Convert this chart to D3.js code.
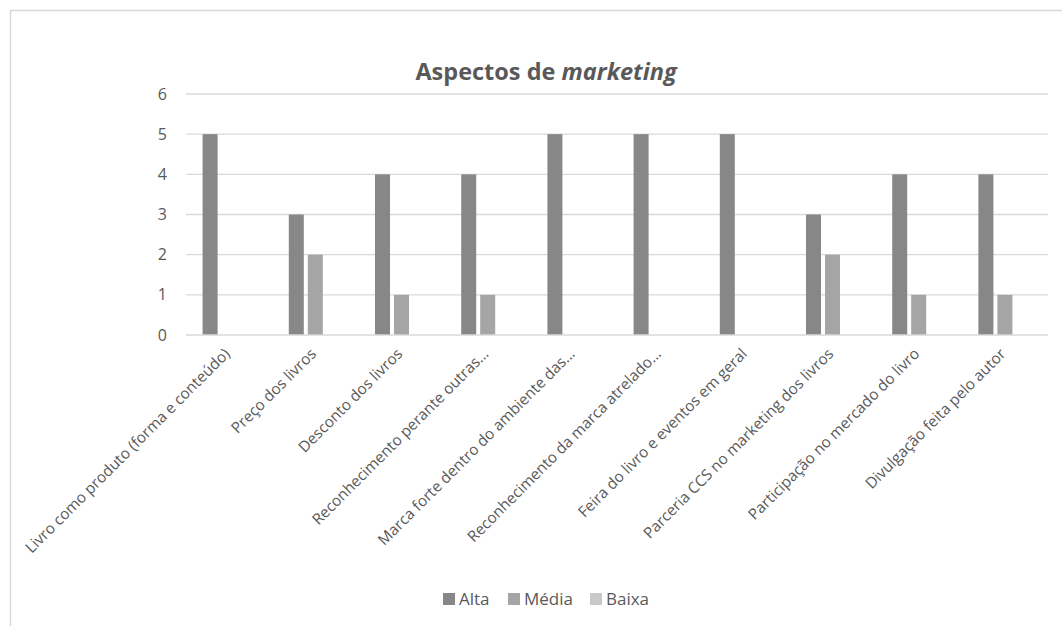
<!DOCTYPE html>
<html>
<head>
<meta charset="utf-8">
<script src="https://cdn.jsdelivr.net/npm/d3@7"></script>
<style>
  html, body { margin: 0; padding: 0; background: #fff; }
  svg { display: block; font-family: "Open Sans", sans-serif; }
</style>
</head>
<body>
<svg id="chart" width="1062" height="626"></svg>
<script>
const categories = [
  "Livro como produto (forma e conteúdo)",
  "Preço dos livros",
  "Desconto dos livros",
  "Reconhecimento perante outras…",
  "Marca forte dentro do ambiente das…",
  "Reconhecimento da marca atrelado…",
  "Feira do livro e eventos em geral",
  "Parceria CCS no marketing dos livros",
  "Participação no mercado do livro",
  "Divulgação feita pelo autor"
];
const seriesNames = ["Alta", "Média", "Baixa"];
const alta  = [5, 3, 4, 4, 5, 5, 5, 3, 4, 4];
const media = [0, 2, 1, 1, 0, 0, 0, 2, 1, 1];
const baixa = [0, 0, 0, 0, 0, 0, 0, 0, 0, 0];
const yTicks = [0, 1, 2, 3, 4, 5, 6];
const colors = ["#878787", "#a5a5a5", "#c8c8c8"];

const seriesValues = [alta, media, baixa];
const data = categories.map((c, i) => ({
  cat: c,
  vals: seriesNames.map((s, j) => ({ key: s, value: seriesValues[j][i] }))
}));

const svg = d3.select("#chart");
const textColor = "#595959";

// outer chart border
svg.append("rect")
  .attr("x", 10.5).attr("y", 10.5)
  .attr("width", 1200).attr("height", 800)
  .attr("fill", "none").attr("stroke", "#d9d9d9").attr("stroke-width", 1.5);

const pLeft = 186, pRight = 1048, pTop = 94, pBottom = 335;

const x0 = d3.scaleBand().domain(categories).range([pLeft, pRight])
  .paddingInner(0.385).paddingOuter(0.1925);
const x1 = d3.scaleBand().domain(seriesNames).range([0, x0.bandwidth()])
  .paddingInner(0.21).paddingOuter(0);
const y = d3.scaleLinear().domain([0, 6]).range([pBottom, pTop]);

// gridlines
svg.append("g").selectAll("line").data(yTicks.filter(d => d > 0)).join("line")
  .attr("x1", pLeft).attr("x2", pRight)
  .attr("y1", d => y(d)).attr("y2", d => y(d))
  .attr("stroke", "#d9d9d9").attr("stroke-width", 1.3);

// y axis labels
const yAxis = d3.axisLeft(y).tickValues(yTicks).tickFormat(d3.format("d"))
  .tickSize(0).tickPadding(0);
const yg = svg.append("g").attr("transform", `translate(${pLeft - 19},0)`).call(yAxis);
yg.select(".domain").remove();
yg.selectAll("text").attr("fill", textColor).style("font-size", "16px")
  .style("font-family", "'Open Sans', sans-serif");

// bars
const groups = svg.append("g").selectAll("g").data(data).join("g")
  .attr("transform", d => `translate(${x0(d.cat)},0)`);
groups.selectAll("rect").data(d => d.vals.filter(v => v.value > 0)).join("rect")
  .attr("x", d => x1(d.key))
  .attr("width", x1.bandwidth())
  .attr("y", d => y(d.value))
  .attr("height", d => y(0) - y(d.value))
  .attr("fill", d => colors[seriesNames.indexOf(d.key)]);

// x axis line
svg.append("line")
  .attr("x1", pLeft).attr("x2", pRight)
  .attr("y1", y(0)).attr("y2", y(0))
  .attr("stroke", "#d9d9d9").attr("stroke-width", 1.5);

// x labels
const xAxis = d3.axisBottom(x0).tickSize(0).tickPadding(0);
const xg = svg.append("g").attr("transform", `translate(0,${pBottom})`).call(xAxis);
xg.select(".domain").remove();
xg.selectAll("text")
  .attr("fill", textColor)
  .style("font-size", "15.3px")
  .style("font-family", "'Open Sans', sans-serif")
  .attr("text-anchor", "end")
  .attr("dy", "0.35em")
  .attr("y", 0)
  .attr("x", 0)
  .attr("transform", "translate(-2,16) rotate(-45)");

// title
const title = svg.append("text")
  .attr("x", 546).attr("y", 80)
  .attr("text-anchor", "middle")
  .attr("fill", textColor)
  .style("font-size", "23.5px")
  .style("font-weight", "bold");
title.append("tspan").text("Aspectos de ");
title.append("tspan").style("font-style", "italic").text("marketing");

// legend
const legendX = [443, 508, 590];
const lg = svg.append("g");
seriesNames.forEach((s, i) => {
  const g = lg.append("g").attr("transform", `translate(${legendX[i]},593)`);
  g.append("rect").attr("width", 12).attr("height", 12).attr("fill", colors[i]);
  g.append("text").attr("x", 16).attr("y", 12).attr("fill", textColor)
    .style("font-size", "17px").text(s);
});
</script>
</body>
</html>
